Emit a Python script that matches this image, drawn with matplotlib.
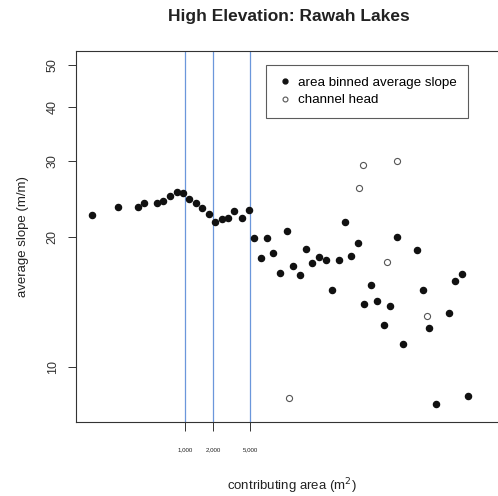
import matplotlib
matplotlib.use("Agg")
import matplotlib.pyplot as plt
from matplotlib.ticker import FixedLocator, NullLocator, FixedFormatter

plt.rcParams['font.family'] = ['Liberation Sans', 'DejaVu Sans']

# area-binned average slope
bin_area = [100, 192, 310, 362, 496, 585, 695, 820, 950, 1104, 1303, 1524, 1798,
            2118, 2482, 2878, 3388, 4072, 4818, 5560, 6515, 7620, 8900, 10420,
            12560, 14500, 17100, 20140, 23380, 27610, 32810, 38370, 44980, 52960,
            61410, 71950, 84720, 98800, 116700, 136400, 160100, 187900, 222400,
            309800, 357700, 420400, 497800, 690000, 806000, 944000, 1109000]
bin_slope = [22.5, 23.4, 23.4, 24.0, 24.0, 24.2, 24.8, 25.4, 25.3, 24.5, 24.0,
             23.3, 22.6, 21.6, 22.0, 22.1, 22.9, 22.1, 23.1, 19.9, 17.9, 19.9,
             18.3, 16.5, 20.6, 17.1, 16.3, 18.7, 17.4, 18.0, 17.7, 15.07, 17.7,
             21.7, 18.07, 19.3, 14.0, 15.45, 14.2, 12.5, 13.8, 19.95, 11.3,
             18.66, 15.06, 12.3, 8.18, 13.35, 15.8, 16.4, 8.55]

# channel heads
head_area = [13250, 73460, 81100, 149300, 191900, 401600]
head_slope = [8.47, 26.0, 29.4, 17.5, 30.0, 13.1]

# reference areas
ref_area = [1000, 2000, 5000]
ref_labels = ['1,000', '2,000', '5,000']
y_ticks = [10, 20, 30, 40, 50]

W, H = 498, 496
fig = plt.figure(figsize=(W / 100, H / 100), dpi=100)
left, right, top, bottom = 76, 508, 51, 422
ax = fig.add_axes([left / W, 1 - bottom / H, (right - left) / W, (bottom - top) / H])
ax.set_xscale('log')
ax.set_yscale('log')
ax.set_xlim(10 ** 1.828, 10 ** 6.472)
ax.set_ylim(10 ** 0.872, 10 ** 1.7315)

for a in ref_area:
    ax.axvline(a, color='#6b97db', lw=0.9, zorder=1)

ax.plot(bin_area, bin_slope, 'o', color='#111111', ms=4.4, mec='#111111',
        label='area binned average slope', zorder=3)
ax.plot(head_area, head_slope, 'o', mfc='white', mec='#555555', mew=0.8, ms=4.4,
        label='channel head', zorder=3)

ax.yaxis.set_major_locator(FixedLocator(y_ticks))
ax.yaxis.set_major_formatter(FixedFormatter([str(v) for v in y_ticks]))
ax.yaxis.set_minor_locator(NullLocator())
ax.xaxis.set_major_locator(FixedLocator(ref_area))
ax.xaxis.set_major_formatter(FixedFormatter(ref_labels))
ax.xaxis.set_minor_locator(NullLocator())

ax.tick_params(axis='y', length=5.5, width=0.7, pad=7, labelsize=9,
               labelrotation=90, colors='#333333', labelcolor='#333333')
for t in ax.get_yticklabels():
    t.set_va('center')
ax.tick_params(axis='x', length=6.5, width=0.7, pad=12, labelsize=4.4,
               colors='#333333', labelcolor='#222222')

for s in ax.spines.values():
    s.set_color('#333333')
    s.set_linewidth(0.8)

ax.set_xlabel('contributing area (m$^2$)', fontsize=9.5, color='#222222', labelpad=17)
ax.set_ylabel('average slope (m/m)', fontsize=9.5, color='#222222', labelpad=13)
fig.text(289 / W, 1 - 17 / H, 'High Elevation: Rawah Lakes', ha='center',
         va='center', fontsize=12.5, fontweight='bold', color='#222222')

leg = ax.legend(loc='upper left', bbox_to_anchor=((265.7 - left) / (right - left),
                1 - (65 - top) / (bottom - top)), fontsize=9.6, frameon=True,
                fancybox=False, edgecolor='#333333', markerscale=0.8,
                handletextpad=0.4, handlelength=1.2, borderpad=0.85,
                labelspacing=0.4, borderaxespad=0)
leg.get_frame().set_linewidth(0.8)

fig.savefig('out.png', dpi=100)
